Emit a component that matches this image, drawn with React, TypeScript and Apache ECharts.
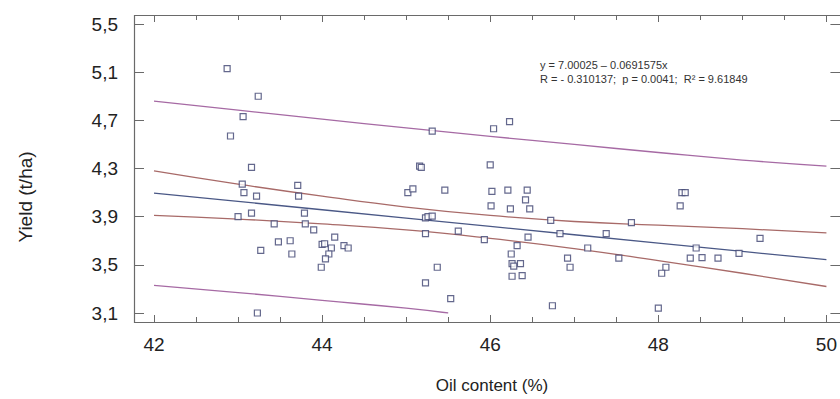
import React, { useEffect, useRef } from "react";
import * as echarts from "echarts";

const oilContent = [
  42.87, 43.24, 43.06, 42.91, 43.16, 43.05, 43.71, 43.07, 43.22, 43.72,
  43.0, 43.16, 43.79, 43.43, 43.8, 43.9, 44.15, 43.48, 43.62, 44.0,
  44.03, 44.26, 44.31, 44.11, 43.27, 43.64, 44.08, 44.04, 43.99, 43.23,
  45.31, 46.04, 46.23, 45.16, 45.18, 46.0, 45.02, 45.08, 45.46, 46.02,
  46.21, 46.44, 46.42, 46.01, 46.24, 46.47, 45.23, 45.26, 45.31, 46.72,
  46.83, 45.23, 45.62, 45.93, 46.45, 46.32, 46.25, 46.26, 46.28, 46.36,
  46.26, 46.38, 46.92, 46.95, 47.16, 45.37, 45.23, 45.53, 46.74, 47.68,
  48.28, 48.32, 48.26, 47.38, 47.53, 49.21, 48.45, 48.38, 48.52, 48.71,
  48.96, 48.09, 48.04, 48.0,
];
const yieldValues = [
  5.13, 4.9, 4.73, 4.57, 4.31, 4.17, 4.16, 4.1, 4.07, 4.07,
  3.9, 3.93, 3.93, 3.84, 3.84, 3.79, 3.73, 3.69, 3.7, 3.67,
  3.675, 3.66, 3.64, 3.64, 3.62, 3.59, 3.59, 3.55, 3.48, 3.1,
  4.61, 4.63, 4.69, 4.32, 4.31, 4.33, 4.1, 4.13, 4.12, 4.11,
  4.12, 4.12, 4.04, 3.99, 3.965, 3.965, 3.89, 3.9, 3.905, 3.87,
  3.76, 3.76, 3.78, 3.71, 3.73, 3.66, 3.59, 3.51, 3.49, 3.51,
  3.405, 3.41, 3.555, 3.48, 3.64, 3.48, 3.35, 3.22, 3.16, 3.85,
  4.1, 4.1, 3.99, 3.76, 3.555, 3.72, 3.64, 3.555, 3.56, 3.555,
  3.595, 3.48, 3.43, 3.14,
];

const bandX = [42, 43, 44, 45, 46, 47, 48, 49, 50];
const regressionY = [4.0956, 4.0265, 3.9573, 3.8882, 3.819, 3.7498, 3.6807, 3.6115, 3.5424];
const confUpperY = [4.28, 4.17, 4.07, 3.98, 3.91, 3.86, 3.83, 3.8, 3.765];
const confLowerY = [3.91, 3.88, 3.84, 3.79, 3.72, 3.635, 3.535, 3.43, 3.32];
const predUpperY = [4.86, 4.785, 4.71, 4.637, 4.567, 4.5, 4.433, 4.37, 4.32];
const predLowerX = [42, 43, 44, 45, 45.5];
const predLowerY = [3.33, 3.27, 3.205, 3.14, 3.1];

const equationText = "y = 7.00025 \u2013 0.0691575x";
const statsText = "R = - 0.310137;  p = 0.0041;  R\u00b2 = 9.61849";
const xTitle = "Oil content (%)";
const yTitle = "Yield (t/ha)";

const zip = (xs: number[], ys: number[]) => xs.map((x, i) => [x, ys[i]]);

export default function App() {
  const ref = useRef<HTMLDivElement>(null);
  useEffect(() => {
    if (!ref.current) return;
    const chart = echarts.init(ref.current, null, { renderer: "svg" });
    const font = "'Liberation Sans', Arial, sans-serif";
    const frameColor = "#6a6a6a";
    const lineStyle = (color: string) => ({ color, width: 1.3 });
    chart.setOption({
      animation: false,
      backgroundColor: "#ffffff",
      grid: { left: 154, right: 10, top: 24, bottom: 86 },
      xAxis: [
        {
          type: "value",
          min: 42,
          max: 50,
          interval: 2,
          offset: 9,
          axisLine: { show: false },
          axisTick: { show: true, inside: true, length: 7, lineStyle: { color: frameColor } },
          minorTick: { show: true, splitNumber: 4, length: 5, lineStyle: { color: frameColor } },
          splitLine: { show: false },
          axisLabel: { color: "#222", fontSize: 19, fontFamily: font, margin: 13 },
        },
        {
          type: "value",
          position: "top",
          min: 42,
          max: 50,
          interval: 2,
          offset: 9,
          axisLine: { show: false },
          axisTick: { show: true, inside: true, length: 7, lineStyle: { color: frameColor } },
          minorTick: { show: true, splitNumber: 4, length: 5, lineStyle: { color: frameColor } },
          splitLine: { show: false },
          axisLabel: { show: false },
        },
      ],
      yAxis: [
        {
          type: "value",
          min: 3.1,
          max: 5.5,
          interval: 0.4,
          offset: 20,
          axisLine: { show: false },
          axisTick: { show: true, inside: true, length: 10, lineStyle: { color: frameColor } },
          splitLine: { show: false },
          axisLabel: {
            color: "#222",
            fontSize: 19,
            fontFamily: font,
            margin: 16,
            formatter: (v: number) => v.toFixed(1).replace(".", ","),
          },
        },
        {
          type: "value",
          position: "right",
          min: 3.1,
          max: 5.5,
          interval: 0.4,
          offset: 14,
          axisLine: { show: false },
          axisTick: { show: true, inside: true, length: 10, lineStyle: { color: frameColor } },
          splitLine: { show: false },
          axisLabel: { show: false },
        },
      ],
      series: [
        {
          type: "line",
          data: zip(bandX, predUpperY),
          smooth: true,
          showSymbol: false,
          lineStyle: lineStyle("#a66aa4"),
        },
        {
          type: "line",
          data: zip(predLowerX, predLowerY),
          smooth: true,
          showSymbol: false,
          lineStyle: lineStyle("#a66aa4"),
        },
        {
          type: "line",
          data: zip(bandX, confUpperY),
          smooth: true,
          showSymbol: false,
          lineStyle: lineStyle("#a86a68"),
        },
        {
          type: "line",
          data: zip(bandX, confLowerY),
          smooth: true,
          showSymbol: false,
          lineStyle: lineStyle("#a86a68"),
        },
        {
          type: "line",
          data: zip(bandX, regressionY),
          showSymbol: false,
          lineStyle: lineStyle("#4a5886"),
        },
        {
          type: "scatter",
          data: zip(oilContent, yieldValues),
          symbol: "rect",
          symbolSize: 6,
          itemStyle: { color: "#ffffff", borderColor: "#3d4270", borderWidth: 1.2 },
          z: 5,
        },
      ],
      graphic: [
        {
          type: "rect",
          shape: { x: 134.5, y: 15.5, width: 710, height: 307 },
          style: { fill: "none", stroke: frameColor, lineWidth: 1.2 },
          silent: true,
          z: 10,
        },
        {
          type: "text",
          x: 540,
          y: 59,
          style: { text: equationText, fontSize: 11, fontFamily: font, fill: "#333" },
        },
        {
          type: "text",
          x: 540,
          y: 73,
          style: { text: statsText, fontSize: 11, fontFamily: font, fill: "#333" },
        },
        {
          type: "text",
          x: 492,
          y: 385,
          style: {
            text: xTitle,
            fontSize: 17,
            fontFamily: font,
            fill: "#222",
            align: "center",
            verticalAlign: "middle",
          },
        },
        {
          type: "text",
          x: 25,
          y: 197,
          rotation: Math.PI / 2,
          style: {
            text: yTitle,
            fontSize: 19,
            fontFamily: font,
            fill: "#222",
            align: "center",
            verticalAlign: "middle",
          },
        },
      ],
    });
    return () => chart.dispose();
  }, []);
  return (
    <div
      ref={ref}
      style={{ position: "fixed", left: 0, top: 0, width: 840, height: 399 }}
    />
  );
}
